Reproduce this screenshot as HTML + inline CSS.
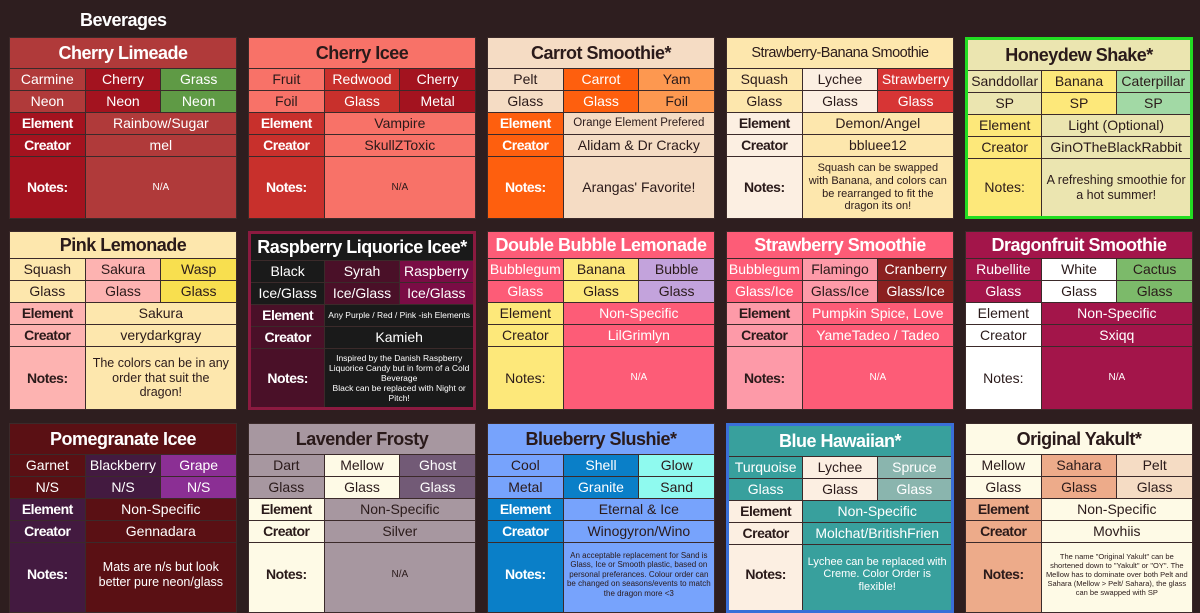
<!DOCTYPE html>
<html><head><meta charset="utf-8"><style>
body{margin:0;width:1200px;height:607px;background:#2e1e1f;position:relative;overflow:hidden;font-family:"Liberation Sans",sans-serif}
.t{position:absolute;left:80px;top:10px;color:#fff;font-weight:bold;font-size:18px;letter-spacing:-0.5px}
.c{position:absolute;width:228px;box-sizing:border-box;background:#3b2a2a;padding:1px;display:grid;grid-template-columns:1fr 1fr 1fr;gap:1px;overflow:hidden}
.r1{top:37px;height:182px;grid-template-rows:30px 21px 21px 21px 21px 1fr}
.r2{top:231px;height:179px;grid-template-rows:26px 21px 21px 21px 21px 1fr}
.r3{top:423px;height:190px;grid-template-rows:30px 21px 21px 21px 21px 1fr}
.c div{display:flex;align-items:center;justify-content:center;text-align:center;font-size:14px;line-height:1.15;white-space:nowrap;overflow:hidden}
.c .h{grid-column:span 3;font-size:18px;font-weight:bold;letter-spacing:-0.5px}
.c .v{grid-column:span 2}
.c .b{font-weight:bold;letter-spacing:-0.5px}
.c .n{white-space:normal;font-size:12.5px;padding:0 4px}
.c .s{white-space:normal;font-size:8.5px;padding:0 3px;line-height:1.2}
.c .na{font-size:10px}
.w{color:#fff}.d{color:#2a1a1a}
.x1{left:9px}.x2{left:248px}.x3{left:487px}.x4{left:726px}.x5{left:965px}
</style></head><body>
<div class="t">Beverages</div>

<!-- Row 1 -->
<div class="c r1 x1">
<div class="h w" style="background:#b03a3a">Cherry Limeade</div>
<div class="w" style="background:#b03a3a">Carmine</div><div class="w" style="background:#a3131f">Cherry</div><div class="w" style="background:#5f9a45">Grass</div>
<div class="w" style="background:#b03a3a">Neon</div><div class="w" style="background:#a3131f">Neon</div><div class="w" style="background:#5f9a45">Neon</div>
<div class="b w" style="background:#a3131f">Element</div><div class="v w" style="background:#b03a3a">Rainbow/Sugar</div>
<div class="b w" style="background:#a3131f">Creator</div><div class="v w" style="background:#b03a3a">mel</div>
<div class="b w" style="background:#a3131f">Notes:</div><div class="v w na" style="background:#b03a3a">N/A</div>
</div>

<div class="c r1 x2">
<div class="h d" style="background:#f87268">Cherry Icee</div>
<div class="d" style="background:#f87268">Fruit</div><div class="w" style="background:#c8302c">Redwood</div><div class="w" style="background:#a3131f">Cherry</div>
<div class="d" style="background:#f87268">Foil</div><div class="w" style="background:#c8302c">Glass</div><div class="w" style="background:#a3131f">Metal</div>
<div class="b w" style="background:#c8302c">Element</div><div class="v d" style="background:#f87268">Vampire</div>
<div class="b w" style="background:#c8302c">Creator</div><div class="v d" style="background:#f87268">SkullZToxic</div>
<div class="b w" style="background:#c8302c">Notes:</div><div class="v d na" style="background:#f87268">N/A</div>
</div>

<div class="c r1 x3">
<div class="h d" style="background:#f5dcc4">Carrot Smoothie*</div>
<div class="d" style="background:#f5dcc4">Pelt</div><div class="w" style="background:#fe5f0e">Carrot</div><div class="d" style="background:#fd9850">Yam</div>
<div class="d" style="background:#f5dcc4">Glass</div><div class="w" style="background:#fe5f0e">Glass</div><div class="d" style="background:#fd9850">Foil</div>
<div class="b w" style="background:#fe5f0e">Element</div><div class="v d" style="background:#f5dcc4;font-size:11.5px">Orange Element Prefered</div>
<div class="b w" style="background:#fe5f0e">Creator</div><div class="v d" style="background:#f5dcc4">Alidam &amp; Dr Cracky</div>
<div class="b w" style="background:#fe5f0e">Notes:</div><div class="v d" style="background:#f5dcc4">Arangas' Favorite!</div>
</div>

<div class="c r1 x4">
<div class="h d" style="background:#fde7ad;font-size:14.5px;font-weight:normal">Strawberry-Banana Smoothie</div>
<div class="d" style="background:#fde7ad">Squash</div><div class="d" style="background:#fcefe2">Lychee</div><div class="w" style="background:#d73535">Strawberry</div>
<div class="d" style="background:#fde7ad">Glass</div><div class="d" style="background:#fcefe2">Glass</div><div class="w" style="background:#d73535">Glass</div>
<div class="b d" style="background:#fcefe2">Element</div><div class="v d" style="background:#fde7ad">Demon/Angel</div>
<div class="b d" style="background:#fcefe2">Creator</div><div class="v d" style="background:#fde7ad">bbluee12</div>
<div class="b d" style="background:#fcefe2">Notes:</div><div class="v d n" style="background:#fde7ad;font-size:11px">Squash can be swapped with Banana, and colors can be rearranged to fit the dragon its on!</div>
</div>

<div class="c r1 x5" style="border:3px solid #22dd22;padding:0;background:#3b2a2a">
<div class="h d" style="background:#ebe5b0">Honeydew Shake*</div>
<div class="d" style="background:#ebe5b0">Sanddollar</div><div class="d" style="background:#fde87a">Banana</div><div class="d" style="background:#a2d9a5">Caterpillar</div>
<div class="d" style="background:#ebe5b0">SP</div><div class="d" style="background:#fde87a">SP</div><div class="d" style="background:#a2d9a5">SP</div>
<div class="d" style="background:#fde87a">Element</div><div class="v d" style="background:#ebe5b0">Light (Optional)</div>
<div class="d" style="background:#fde87a">Creator</div><div class="v d" style="background:#ebe5b0">GinOTheBlackRabbit</div>
<div class="d" style="background:#fde87a">Notes:</div><div class="v d n" style="background:#ebe5b0">A refreshing smoothie for a hot summer!</div>
</div>

<!-- Row 2 -->
<div class="c r2 x1">
<div class="h d" style="background:#fde7ad">Pink Lemonade</div>
<div class="d" style="background:#fde7ad">Squash</div><div class="d" style="background:#fdb3b1">Sakura</div><div class="d" style="background:#f8df4f">Wasp</div>
<div class="d" style="background:#fde7ad">Glass</div><div class="d" style="background:#fdb3b1">Glass</div><div class="d" style="background:#f8df4f">Glass</div>
<div class="b d" style="background:#fdb3b1">Element</div><div class="v d" style="background:#fde7ad">Sakura</div>
<div class="b d" style="background:#fdb3b1">Creator</div><div class="v d" style="background:#fde7ad">verydarkgray</div>
<div class="b d" style="background:#fdb3b1">Notes:</div><div class="v d n" style="background:#fde7ad">The colors can be in any order that suit the dragon!</div>
</div>

<div class="c r2 x2" style="border:3px solid #8b1a40;padding:0;background:#3b2a2a">
<div class="h w" style="background:#1a1a1a">Raspberry Liquorice Icee*</div>
<div class="w" style="background:#1a1a1a">Black</div><div class="w" style="background:#4a1028">Syrah</div><div class="w" style="background:#7a0c45">Raspberry</div>
<div class="w" style="background:#1a1a1a">Ice/Glass</div><div class="w" style="background:#4a1028">Ice/Glass</div><div class="w" style="background:#7a0c45">Ice/Glass</div>
<div class="b w" style="background:#4a1028">Element</div><div class="v w" style="background:#1a1a1a;font-size:8.5px">Any Purple / Red / Pink -ish Elements</div>
<div class="b w" style="background:#4a1028">Creator</div><div class="v w" style="background:#1a1a1a">Kamieh</div>
<div class="b w" style="background:#4a1028">Notes:</div><div class="v w s" style="background:#1a1a1a">Inspired by the Danish Raspberry Liquorice Candy but in form of a Cold Beverage<br>Black can be replaced with Night or Pitch!</div>
</div>

<div class="c r2 x3">
<div class="h w" style="background:#fd5c77">Double Bubble Lemonade</div>
<div class="w" style="background:#fd5c77">Bubblegum</div><div class="d" style="background:#fde87a">Banana</div><div class="d" style="background:#c3a3dc">Bubble</div>
<div class="w" style="background:#fd5c77">Glass</div><div class="d" style="background:#fde87a">Glass</div><div class="d" style="background:#c3a3dc">Glass</div>
<div class="d" style="background:#fde87a">Element</div><div class="v w" style="background:#fd5c77">Non-Specific</div>
<div class="d" style="background:#fde87a">Creator</div><div class="v w" style="background:#fd5c77">LilGrimlyn</div>
<div class="d" style="background:#fde87a">Notes:</div><div class="v w na" style="background:#fd5c77">N/A</div>
</div>

<div class="c r2 x4">
<div class="h w" style="background:#fd5c77">Strawberry Smoothie</div>
<div class="w" style="background:#fd5c77">Bubblegum</div><div class="d" style="background:#fd9aa8">Flamingo</div><div class="w" style="background:#8b2020">Cranberry</div>
<div class="w" style="background:#fd5c77">Glass/Ice</div><div class="d" style="background:#fd9aa8">Glass/Ice</div><div class="w" style="background:#8b2020">Glass/Ice</div>
<div class="b d" style="background:#fd9aa8">Element</div><div class="v w" style="background:#fd5c77">Pumpkin Spice, Love</div>
<div class="b d" style="background:#fd9aa8">Creator</div><div class="v w" style="background:#fd5c77">YameTadeo / Tadeo</div>
<div class="b d" style="background:#fd9aa8">Notes:</div><div class="v w na" style="background:#fd5c77">N/A</div>
</div>

<div class="c r2 x5">
<div class="h w" style="background:#a3154a">Dragonfruit Smoothie</div>
<div class="w" style="background:#a3154a">Rubellite</div><div class="d" style="background:#ffffff">White</div><div class="d" style="background:#7cba6a">Cactus</div>
<div class="w" style="background:#a3154a">Glass</div><div class="d" style="background:#ffffff">Glass</div><div class="d" style="background:#7cba6a">Glass</div>
<div class="d" style="background:#ffffff">Element</div><div class="v w" style="background:#a3154a">Non-Specific</div>
<div class="d" style="background:#ffffff">Creator</div><div class="v w" style="background:#a3154a">Sxiqq</div>
<div class="d" style="background:#ffffff">Notes:</div><div class="v w na" style="background:#a3154a">N/A</div>
</div>

<!-- Row 3 -->
<div class="c r3 x1">
<div class="h w" style="background:#5a1014">Pomegranate Icee</div>
<div class="w" style="background:#5a1014">Garnet</div><div class="w" style="background:#431a40">Blackberry</div><div class="w" style="background:#8b2f94">Grape</div>
<div class="w" style="background:#5a1014">N/S</div><div class="w" style="background:#431a40">N/S</div><div class="w" style="background:#8b2f94">N/S</div>
<div class="b w" style="background:#431a40">Element</div><div class="v w" style="background:#5a1014">Non-Specific</div>
<div class="b w" style="background:#431a40">Creator</div><div class="v w" style="background:#5a1014">Gennadara</div>
<div class="b w" style="background:#431a40;padding-bottom:6px">Notes:</div><div class="v w n" style="background:#5a1014;padding-bottom:6px">Mats are n/s but look better pure neon/glass</div>
</div>

<div class="c r3 x2">
<div class="h d" style="background:#a797a0">Lavender Frosty</div>
<div class="d" style="background:#a797a0">Dart</div><div class="d" style="background:#fefae6">Mellow</div><div class="w" style="background:#725a76">Ghost</div>
<div class="d" style="background:#a797a0">Glass</div><div class="d" style="background:#fefae6">Glass</div><div class="w" style="background:#725a76">Glass</div>
<div class="b d" style="background:#fefae6">Element</div><div class="v d" style="background:#a797a0">Non-Specific</div>
<div class="b d" style="background:#fefae6">Creator</div><div class="v d" style="background:#a797a0">Silver</div>
<div class="b d" style="background:#fefae6;padding-bottom:6px">Notes:</div><div class="v d na" style="background:#a797a0;padding-bottom:6px">N/A</div>
</div>

<div class="c r3 x3">
<div class="h d" style="background:#77a3fc">Blueberry Slushie*</div>
<div class="d" style="background:#77a3fc">Cool</div><div class="w" style="background:#0a7fc8">Shell</div><div class="d" style="background:#8ffaef">Glow</div>
<div class="d" style="background:#77a3fc">Metal</div><div class="w" style="background:#0a7fc8">Granite</div><div class="d" style="background:#8ffaef">Sand</div>
<div class="b w" style="background:#0a7fc8">Element</div><div class="v d" style="background:#77a3fc">Eternal &amp; Ice</div>
<div class="b w" style="background:#0a7fc8">Creator</div><div class="v d" style="background:#77a3fc">Winogyron/Wino</div>
<div class="b w" style="background:#0a7fc8;padding-bottom:6px">Notes:</div><div class="v d s" style="background:#77a3fc;padding-bottom:6px;font-size:8px">An acceptable replacement for Sand is Glass, Ice or Smooth plastic, based on personal preferances. Colour order can be changed on seasons/events to match the dragon more &lt;3</div>
</div>

<div class="c r3 x4" style="border:3px solid #3a6fd8;padding:0;background:#3b2a2a">
<div class="h w" style="background:#38a09d">Blue Hawaiian*</div>
<div class="w" style="background:#38a09d">Turquoise</div><div class="d" style="background:#fcefe2">Lychee</div><div class="w" style="background:#8ab5ae">Spruce</div>
<div class="w" style="background:#38a09d">Glass</div><div class="d" style="background:#fcefe2">Glass</div><div class="w" style="background:#8ab5ae">Glass</div>
<div class="b d" style="background:#fcefe2">Element</div><div class="v w" style="background:#38a09d">Non-Specific</div>
<div class="b d" style="background:#fcefe2">Creator</div><div class="v w" style="background:#38a09d">Molchat/BritishFrien</div>
<div class="b d" style="background:#fcefe2;padding-bottom:6px">Notes:</div><div class="v w n" style="background:#38a09d;padding-bottom:6px;font-size:11px">Lychee can be replaced with Creme. Color Order is flexible!</div>
</div>

<div class="c r3 x5">
<div class="h d" style="background:#fefae6">Original Yakult*</div>
<div class="d" style="background:#fefae6">Mellow</div><div class="d" style="background:#edab8a">Sahara</div><div class="d" style="background:#f5dcc4">Pelt</div>
<div class="d" style="background:#fefae6">Glass</div><div class="d" style="background:#edab8a">Glass</div><div class="d" style="background:#f5dcc4">Glass</div>
<div class="b d" style="background:#edab8a">Element</div><div class="v d" style="background:#fefae6">Non-Specific</div>
<div class="b d" style="background:#edab8a">Creator</div><div class="v d" style="background:#fefae6">Movhiis</div>
<div class="b d" style="background:#edab8a;padding-bottom:6px">Notes:</div><div class="v d s" style="background:#fefae6;padding-bottom:6px;font-size:7.5px">The name "Original Yakult" can be shortened down to "Yakult" or "OY". The Mellow has to dominate over both Pelt and Sahara (Mellow &gt; Pelt/ Sahara), the glass can be swapped with SP</div>
</div>
</body></html>
